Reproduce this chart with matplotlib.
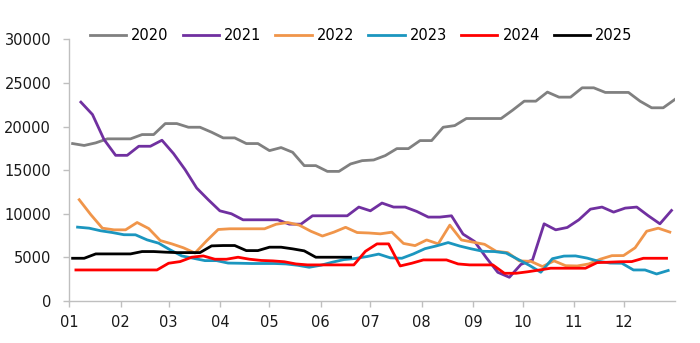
import matplotlib
matplotlib.use("Agg")
import matplotlib.pyplot as plt
import pandas as pd

# ---- data (weekly values) ----
labels = ["2020", "2021", "2022", "2023", "2024", "2025"]
month_labels = ["01", "02", "03", "04", "05", "06", "07", "08", "09", "10", "11", "12"]

start_2020 = "2020-01-03"
v2020 = [18050, 17830, 18130, 18590, 18590, 18590, 19080, 19080, 20340, 20340,
         19920, 19920, 19350, 18700, 18700, 18050, 18050, 17240, 17590, 17050,
         15520, 15520, 14860, 14860, 15710, 16090, 16170, 16670, 17470, 17470,
         18390, 18390, 19920, 20110, 20920, 20920, 20920, 20920, 21880, 22910,
         22910, 23950, 23370, 23370, 24440, 24440, 23910, 23910, 23910, 22910,
         22150, 22150, 23100]

start_2021 = "2020-01-08"
v2021 = [22800, 21380, 18510, 16700, 16700, 17740, 17740, 18430, 16900, 15060,
         12950, 11610, 10340, 10000, 9310, 9310, 9310, 9310, 8810, 8810,
         9770, 9770, 9770, 9770, 10770, 10340, 11230, 10770, 10770, 10270,
         9620, 9620, 9770, 7670, 6820, 4980, 3290, 2720, 4200, 4710,
         8850, 8160, 8430, 9310, 10530, 10770, 10190, 10650, 10770, 9770,
         8850, 10380]

start_2022 = "2020-01-07"
v2022 = [11610, 9900, 8350, 8160, 8160, 9000, 8310, 6930, 6550, 6100,
         5500, 6900, 8200, 8280, 8280, 8280, 8280, 8800, 9000, 8700,
         8000, 7450, 7900, 8450, 7850, 7800, 7700, 7890, 6600, 6350,
         7000, 6550, 8700, 7000, 6750, 6500, 5700, 5550, 4600, 4550,
         3950, 4600, 4050, 4020, 4250, 4800, 5200, 5210, 6100, 8000,
         8350, 7900]

start_2023 = "2020-01-06"
v2023 = [8470, 8350, 8050, 7850, 7600, 7590, 7010, 6630, 5860, 5170,
         4900, 4630, 4630, 4350, 4330, 4300, 4300, 4300, 4250, 4100,
         3870, 4100, 4450, 4750, 4880, 5100, 5380, 4950, 4900, 5400,
         6000, 6320, 6700, 6300, 5980, 5700, 5670, 5500, 4800, 4100,
         3300, 4850, 5150, 5170, 4920, 4550, 4350, 4330, 3560, 3560,
         3100, 3500]

start_2024 = "2020-01-05"
v2024 = [3560, 3560, 3560, 3560, 3560, 3560, 3560, 3560, 4330, 4520,
         5020, 5170, 4790, 4790, 5020, 4790, 4650, 4600, 4500, 4250,
         4140, 4140, 4140, 4140, 4140, 5700, 6550, 6550, 4020, 4330,
         4710, 4710, 4710, 4250, 4140, 4140, 4140, 3180, 3180, 3350,
         3550, 3760, 3760, 3760, 3760, 4400, 4450, 4500, 4520, 4900,
         4900, 4900]

start_2025 = "2020-01-03"
v2025 = [4900, 4900, 5400, 5400, 5400, 5400, 5670, 5670, 5600, 5550,
         5550, 5550, 6320, 6360, 6360, 5780, 5780, 6170, 6170, 5980,
         5750, 5020, 5020, 5020, 5020]

starts = [start_2020, start_2021, start_2022, start_2023, start_2024, start_2025]
series = [v2020, v2021, v2022, v2023, v2024, v2025]
colors = ["#808080", "#7030A0", "#F0954A", "#1B96BF", "#FF0000", "#000000"]

# ---- plot ----
base = pd.Timestamp("2020-01-01")
fig = plt.figure(figsize=(7.0, 3.43), dpi=100)
ax = fig.add_axes([0.099, 0.1224, 0.865, 0.763])

for lab, st, vals, c in zip(labels, starts, series, colors):
    d = pd.date_range(st, periods=len(vals), freq="7D")
    x = (d - base).days
    ax.plot(x, vals, color=c, lw=2.0, label=lab, solid_joinstyle="round")

month_starts = pd.date_range("2020-01-01", periods=12, freq="MS")
ax.set_xticks((month_starts - base).days)
ax.set_xticklabels(month_labels)
ax.set_xlim(0, 366)
ax.set_ylim(0, 30000)
ax.set_yticks(range(0, 30001, 5000))

for s in ["top", "right"]:
    ax.spines[s].set_visible(False)
for s in ["left", "bottom"]:
    ax.spines[s].set_color("#BFBFBF")
    ax.spines[s].set_linewidth(1.0)
ax.tick_params(axis="both", colors="#BFBFBF", labelcolor="#1a1a1a",
               labelsize=10.5, length=4, width=1.0, direction="out")
ax.tick_params(axis="y", pad=9)
ax.tick_params(axis="x", pad=6)

ax.legend(loc="lower center", bbox_to_anchor=(0.482, 0.965), ncol=6, frameon=False,
          fontsize=10.5, handlelength=2.5, handletextpad=0.35, columnspacing=0.95,
          borderaxespad=0.0)

fig.savefig("out.png", dpi=100)
